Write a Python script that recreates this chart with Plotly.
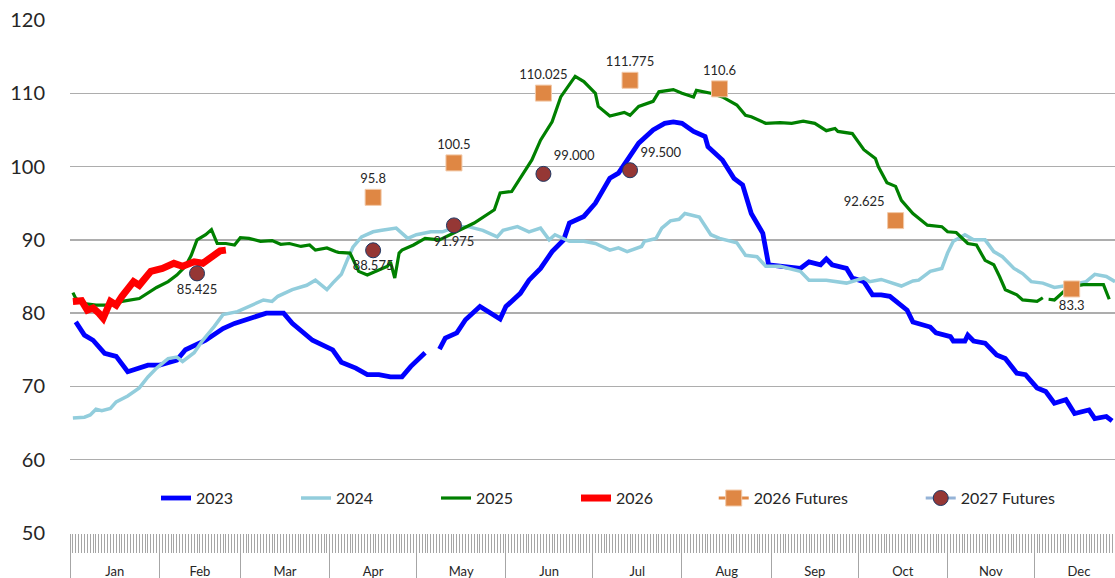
import plotly.graph_objects as go

# ---------------- data (x = day of year, y = value) ----------------
months = ["Jan", "Feb", "Mar", "Apr", "May", "Jun", "Jul", "Aug", "Sep", "Oct", "Nov", "Dec"]
month_starts = [0, 31, 59, 90, 120, 151, 181, 212, 243, 273, 304, 334, 365]

d2023 = [2, 5, 8, 12, 16, 20, 27, 31, 37, 40, 47, 53, 57, 61, 68, 74, 77, 84, 89, 91, 94, 99, 103, 107, 111, 115, 118, 123,
         None, 128, 130, 134, 137, 142, 145, 149, 151, 156, 159, 163, 167, 171, 173, 178, 182, 187, 190, 193, 197, 202,
         206, 209, 212, 216, 220, 221, 226, 230, 233, 236, 240, 242, 248, 253, 256, 260, 262, 264, 269, 271, 275, 278,
         281, 284, 290, 292, 298, 300, 305, 306, 310, 311, 313, 317, 321, 324, 328, 331, 335, 338, 341, 345, 348, 353,
         355, 359, 361]
v2023 = [78.8, 77.0, 76.3, 74.5, 74.1, 72.0, 72.9, 72.9, 73.6, 75.0, 76.3, 77.9, 78.6, 79.1, 80.0, 80.0, 78.6, 76.3, 75.4, 75.0,
         73.3, 72.5, 71.6, 71.6, 71.3, 71.3, 72.7, 74.6,
         None, 75.1, 76.6, 77.3, 79.1, 80.9, 80.2, 79.2, 80.9, 82.7, 84.5, 86.1, 88.4, 90.0, 92.3, 93.2, 95.0, 98.4, 99.1,
         100.9, 103.2, 105.0, 105.9, 106.1, 105.9, 104.8, 104.1, 102.7, 100.9, 98.4, 97.5, 93.6, 90.9, 86.6, 86.4, 86.1,
         87.0, 86.6, 87.4, 86.6, 86.1, 84.8, 84.3, 82.5, 82.5, 82.3, 80.4, 78.8, 78.1, 77.3, 76.8, 76.2, 76.2, 77.0, 76.2,
         75.9, 74.3, 73.8, 71.8, 71.6, 69.8, 69.3, 67.7, 68.2, 66.3, 66.8, 65.6, 65.9, 65.3]

d2024 = [1, 5, 7, 9, 11, 14, 16, 20, 24, 27, 30, 34, 37, 39, 43, 46, 50, 53, 58, 62, 67, 70, 72, 77, 82, 85, 89, 91, 94,
         96, 98, 101, 105, 108, 113, 117, 120, 125, 129, 134, 138, 143, 148, 150, 155, 159, 163, 166, 168, 173, 178,
         182, 187, 190, 193, 198, 199, 203, 205, 208, 211, 213, 218, 222, 225, 231, 234, 238, 241, 246, 253, 256, 262,
         269, 275, 277, 281, 288, 292, 294, 298, 302, 304, 306, 310, 313, 317, 320, 323, 327, 330, 333, 337, 341, 346,
         352, 355, 359, 362]
v2024 = [65.7, 65.8, 66.1, 66.9, 66.7, 67.0, 67.9, 68.7, 69.8, 71.3, 72.5, 73.8, 74.0, 73.4, 74.6, 76.3, 78.2, 79.8, 80.2,
         80.9, 81.8, 81.6, 82.3, 83.2, 83.8, 84.5, 83.2, 84.1, 85.3, 87.2, 89.0, 90.4, 91.1, 91.3, 91.6, 90.2, 90.7,
         91.1, 91.1, 91.8, 91.8, 91.3, 90.4, 91.3, 91.8, 91.1, 91.6, 90.0, 90.7, 89.8, 89.8, 89.5, 88.6, 88.9, 88.4,
         89.1, 89.8, 90.2, 91.6, 92.6, 92.8, 93.6, 93.1, 90.7, 90.2, 89.6, 87.9, 87.7, 86.4, 86.4, 85.7, 84.5, 84.5,
         84.1, 84.8, 84.3, 84.6, 83.7, 84.4, 84.5, 85.7, 86.1, 88.2, 89.8, 90.7, 90.0, 90.0, 88.4, 87.7, 86.1, 85.4,
         84.3, 84.1, 83.5, 83.8, 84.3, 85.3, 85.0, 84.3]

d2025 = [1, 2, 5, 9, 14, 18, 24, 27, 30, 34, 37, 40, 42, 44, 47, 49, 51, 54, 57, 59, 62, 66, 70, 73, 76, 80, 83, 85, 89,
         92, 93, 97, 100, 103, 107, 110, 111, 112.5, 114, 115, 119, 123, 128, 134, 140, 147, 149, 153, 157, 160, 163,
         167, 170, 175, 178, 182, 183, 187, 192, 194, 197, 202, 204, 209, 212, 216, 217, 222, 226, 231, 234, 236, 241,
         246, 250, 254, 258, 262, 265, 266, 271, 275, 279, 280, 283, 286, 288, 292, 297, 302, 304, 307, 311, 314, 317,
         320, 322, 324, 328, 330, 335, 337, None, 339, 341, 345, 347, 351, 358, 360]
v2025 = [82.8, 82.0, 81.3, 81.1, 81.1, 81.6, 82.0, 82.7, 83.5, 84.3, 85.2, 86.4, 87.9, 90.0, 90.7, 91.4, 89.5, 89.5, 89.3,
         90.3, 90.2, 89.8, 89.9, 89.4, 89.5, 89.1, 89.3, 88.6, 88.9, 88.4, 88.3, 88.2, 85.7, 85.2, 85.9, 86.4, 87.0,
         84.8, 88.2, 88.6, 89.3, 90.2, 90.0, 91.1, 92.3, 94.1, 96.4, 96.6, 99.1, 100.9, 103.6, 106.1, 109.5, 112.3,
         111.6, 110.0, 108.2, 106.9, 107.4, 107.0, 108.2, 108.9, 110.2, 110.5, 110.0, 109.5, 110.4, 110.0, 109.5,
         108.4, 107.0, 106.8, 105.9, 106.0, 105.9, 106.2, 105.9, 104.9, 105.2, 104.8, 104.5, 102.3, 101.1, 100.0,
         97.8, 97.3, 95.4, 93.6, 92.0, 91.8, 91.1, 91.0, 89.5, 89.3, 87.2, 86.6, 85.0, 83.2, 82.5, 81.8, 81.6, 82.1,
         None, 81.9, 81.8, 83.2, 83.6, 83.9, 83.9, 81.9]

d2026 = [1, 4, 6, 8, 10, 11.5, 14, 16, 18, 22, 24, 28, 32, 36, 39, 43, 46, 49, 52, 54]
v2026 = [81.6, 81.7, 80.4, 80.7, 80.0, 79.3, 81.6, 81.1, 82.3, 84.3, 83.8, 85.7, 86.1, 86.8, 86.4, 87.0, 86.8, 87.7,
         88.5, 88.6]

fut26_days = [105, 133, 164, 194, 225, 286, 347]
fut26_vals = [95.8, 100.5, 110.025, 111.775, 110.6, 92.625, 83.3]
fut26_text = ["95.8", "100.5", "110.025", "111.775", "110.6", "92.625", "83.3"]
fut26_pos = ["top center", "top center", "top center", "top center", "top center", "top left", "bottom center"]

fut27_days = [44, 105, 133, 164, 194]
fut27_vals = [85.425, 88.575, 91.975, 99.0, 99.5]
fut27_text = ["85.425", "88.575", "91.975", "99.000", "99.500"]
fut27_pos = ["bottom center", "bottom center", "bottom center", "top right", "top right"]


def spread(xs, ys, ts, ps):
    """separate points with gaps so no connecting line is drawn"""
    X, Y, T, P = [], [], [], []
    for x, y, t, p in zip(xs, ys, ts, ps):
        X += [x, None]
        Y += [y, None]
        T += [t, ""]
        P += [p, p]
    return X, Y, T, P


FONT = "Lato, 'Open Sans', sans-serif"
fig = go.Figure()

for name, xs, ys, col, w in [("2023", d2023, v2023, "#0000FF", 4.8),
                             ("2024", d2024, v2024, "#92CDDC", 3.5),
                             ("2025", d2025, v2025, "#008000", 3.2),
                             ("2026", d2026, v2026, "#FF0000", 7)]:
    fig.add_trace(go.Scatter(x=xs, y=ys, name=name, mode="lines", connectgaps=False, legend="legend",
                             line=dict(color=col, width=w, shape="linear"), hoverinfo="skip"))

X, Y, T, P = spread(fut26_days, fut26_vals, fut26_text, fut26_pos)
fig.add_trace(go.Scatter(x=X, y=Y, name="2026 Futures", mode="lines+markers+text", connectgaps=False,
                         legend="legend2", hoverinfo="skip",
                         text=T, textposition=P, textfont=dict(size=13, color="#262626", family=FONT),
                         line=dict(color="#DF8744", width=3),
                         marker=dict(symbol="square", size=16, color="#DF8744",
                                     line=dict(color="#F2C9A8", width=1))))

X, Y, T, P = spread(fut27_days, fut27_vals, fut27_text, fut27_pos)
fig.add_trace(go.Scatter(x=X, y=Y, name="2027 Futures", mode="lines+markers+text", connectgaps=False,
                         legend="legend2", hoverinfo="skip",
                         text=T, textposition=P, textfont=dict(size=13, color="#262626", family=FONT),
                         line=dict(color="#95B3D7", width=3),
                         marker=dict(symbol="circle", size=15, color="#953735",
                                     line=dict(color="#1F3864", width=1))))

centers = [(month_starts[i] + month_starts[i + 1]) / 2 for i in range(12)]

legend_common = dict(orientation="h", yanchor="middle", xanchor="left", y=0.068,
                     bgcolor="rgba(0,0,0,0)", font=dict(size=16, color="#262626", family=FONT),
                     entrywidthmode="pixels", itemwidth=30)

fig.update_layout(
    width=1115, height=578,
    margin=dict(l=70, r=0, t=20, b=45, autoexpand=False),
    paper_bgcolor="white", plot_bgcolor="white",
    font=dict(family=FONT, color="#262626"),
    showlegend=True,
    hovermode=False,
    legend=dict(x=0.0823, entrywidth=95, **legend_common),
    legend2=dict(x=0.616, entrywidth=162, **legend_common),
    xaxis=dict(range=[0, 362], tickmode="array", tickvals=centers, ticktext=months,
               ticks="", showgrid=False, zeroline=False, showline=False,
               tickfont=dict(size=13, color="#262626", family=FONT), ticklabelstandoff=29,
               minor=dict(tickmode="linear", tick0=0, dtick=1, ticks="outside", ticklen=19,
                          tickcolor="#A6A6A6", tickwidth=1, showgrid=False)),
    xaxis2=dict(range=[0, 362], overlaying="x", anchor="y", side="bottom", tickmode="array",
                tickvals=month_starts, ticks="outside", ticklen=45, tickcolor="#A6A6A6", tickwidth=1,
                showticklabels=False, showgrid=False, zeroline=False, showline=False),
    yaxis=dict(range=[50, 120], dtick=10, tick0=50, showgrid=True, gridcolor="#ADADAD", gridwidth=1.3,
               zeroline=False, showline=False, ticks="", ticklabelstandoff=24,
               tickfont=dict(size=20, color="#262626", family=FONT)),
)
# dummy trace so xaxis2 renders
fig.add_trace(go.Scatter(x=[None], y=[None], xaxis="x2", showlegend=False, hoverinfo="skip"))

fig.write_html("out.html", config={"displayModeBar": False, "staticPlot": True},
               post_script="document.body.style.margin='0px';document.body.style.overflow='hidden';")
